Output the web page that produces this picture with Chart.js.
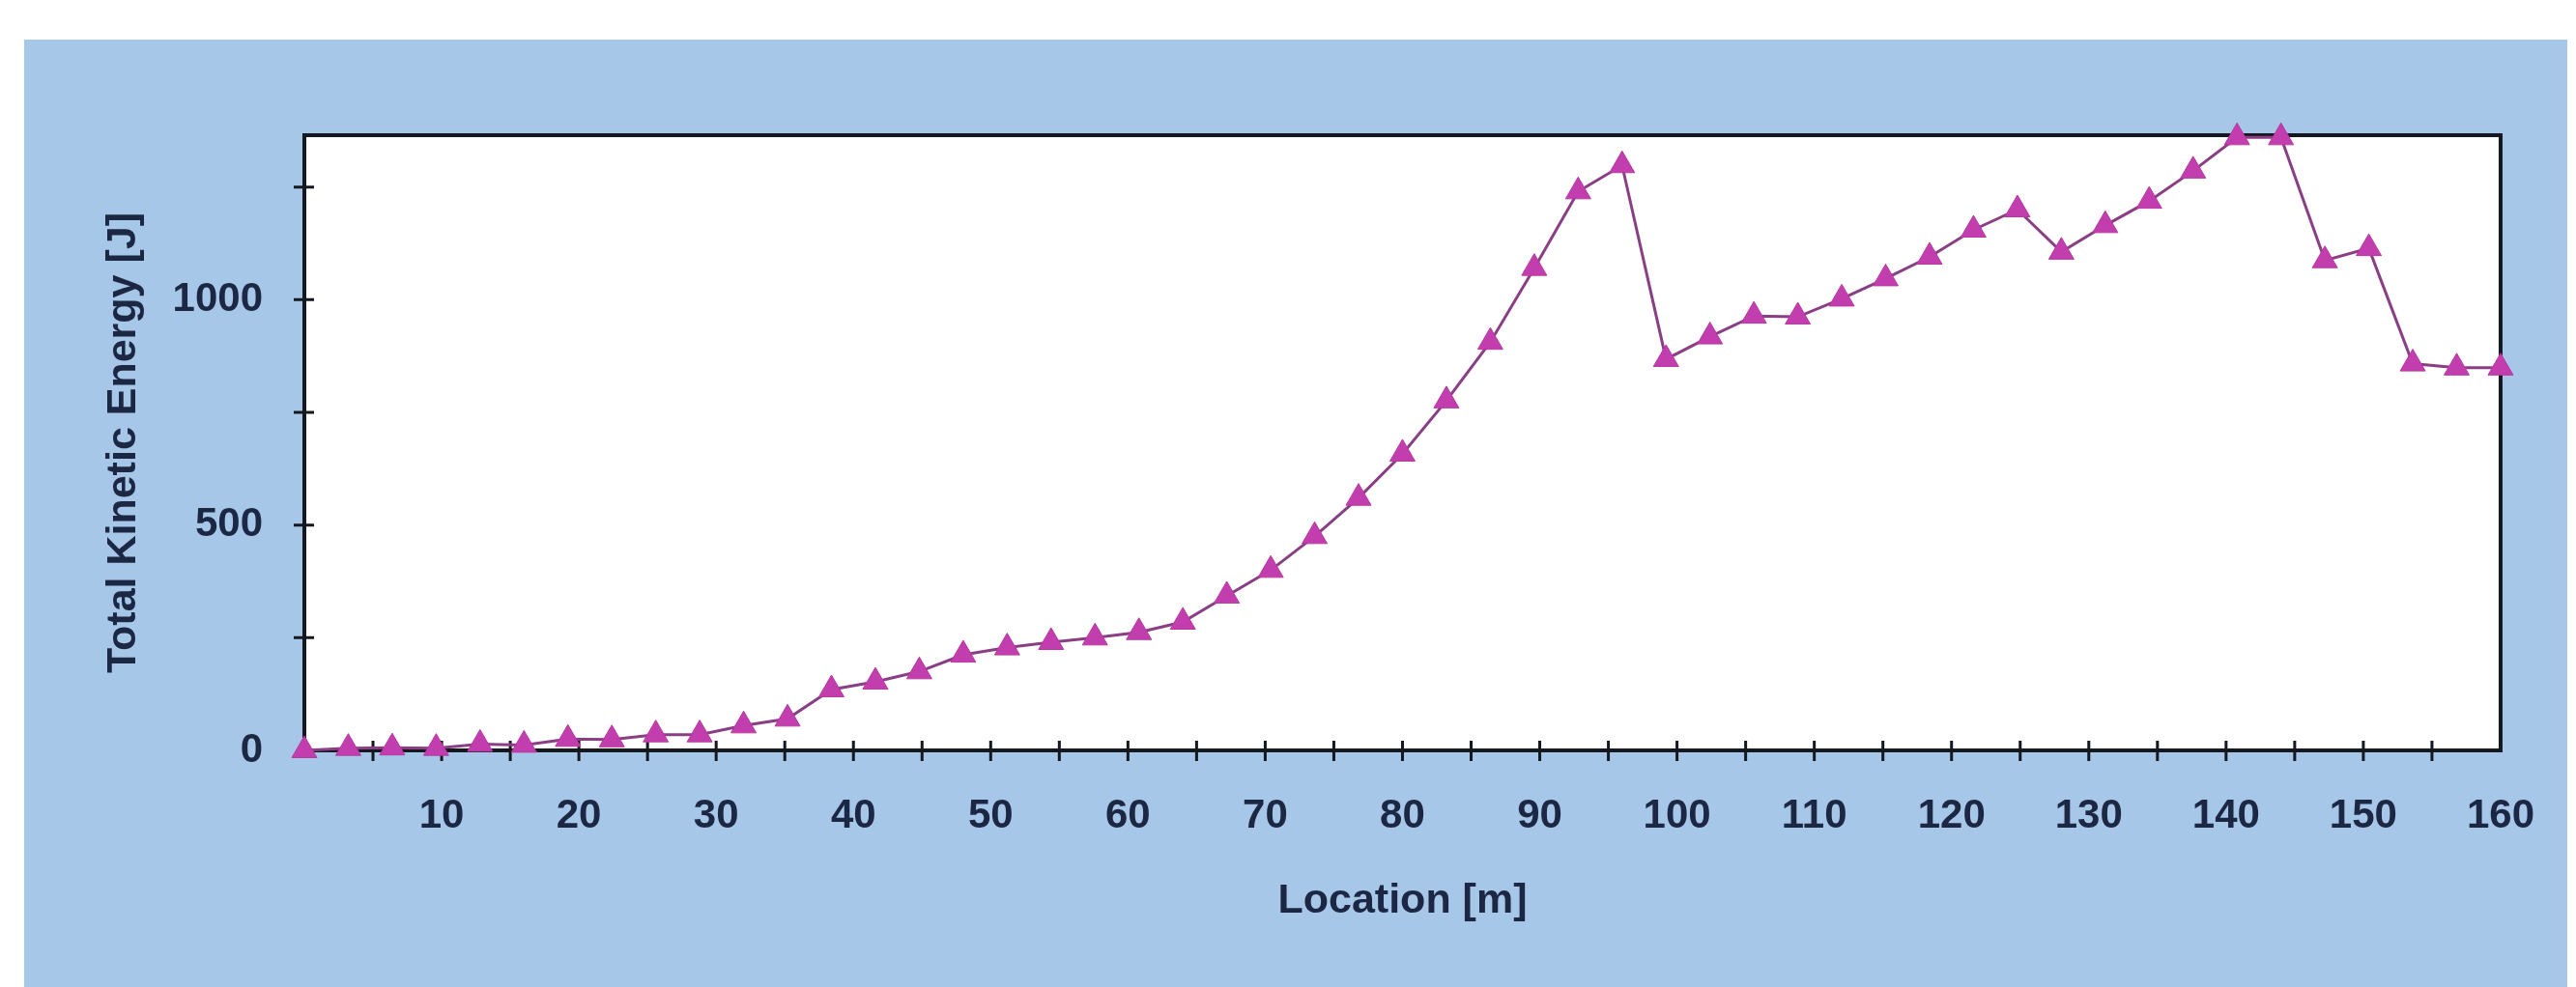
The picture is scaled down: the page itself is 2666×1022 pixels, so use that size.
<!DOCTYPE html>
<html>
<head>
<meta charset="utf-8">
<script src="https://cdn.jsdelivr.net/npm/chart.js@4.4.0/dist/chart.umd.min.js"></script>
<style>
  html, body { margin: 0; padding: 0; background: #ffffff; overflow: hidden; }
  canvas { display: block; }
</style>
</head>
<body>
<canvas id="chart" width="2666" height="1022" style="width:2666px;height:1022px"></canvas>
<script>
// ---- data ----
const locations = [0, 3.2, 6.4, 9.6, 12.8, 16, 19.2, 22.4, 25.6, 28.8,
  32, 35.2, 38.4, 41.6, 44.8, 48, 51.2, 54.4, 57.6, 60.8,
  64, 67.2, 70.4, 73.6, 76.8, 80, 83.2, 86.4, 89.6, 92.8,
  96, 99.2, 102.4, 105.6, 108.8, 112, 115.2, 118.4, 121.6, 124.8,
  128, 131.2, 134.4, 137.6, 140.8, 144, 147.2, 150.4, 153.6, 156.8, 160];
const kineticEnergy = [0, 5, 6, 5, 14, 12, 25, 24, 35, 35,
  55, 70, 135, 152, 175, 212, 228, 240, 250, 262,
  285, 343, 400, 475, 560, 658, 776, 906, 1070, 1240,
  1298, 868, 918, 964, 962, 1002, 1047, 1095, 1155, 1200,
  1106, 1165, 1219, 1286, 1360, 1360, 1087, 1114, 858, 849, 849];
const xTickLabels = [10, 20, 30, 40, 50, 60, 70, 80, 90, 100, 110, 120, 130, 140, 150, 160];
const xTickMarks = [5, 10, 15, 20, 25, 30, 35, 40, 45, 50, 55, 60, 65, 70, 75, 80,
  85, 90, 95, 100, 105, 110, 115, 120, 125, 130, 135, 140, 145, 150, 155];
const yTickLabels = [0, 500, 1000];
const yTickMarks = [250, 500, 750, 1000, 1250];
const xAxisTitle = 'Location [m]';
const yAxisTitle = 'Total Kinetic Energy [J]';

// ---- styles ----
const PANEL = '#a7c7e9';
const INK = '#1c2743';
const FONT = '"Liberation Sans", Arial, sans-serif';

const framePlugin = {
  id: 'frame',
  beforeDraw(chart) {
    const { ctx, chartArea: a } = chart;
    ctx.save();
    ctx.fillStyle = '#ffffff';
    ctx.fillRect(0, 0, chart.width, chart.height);
    ctx.fillStyle = PANEL;
    ctx.fillRect(25, 41, 2632, 981);
    ctx.fillStyle = '#ffffff';
    ctx.fillRect(a.left, a.top, a.right - a.left, a.bottom - a.top);
    ctx.restore();
  },
  beforeDatasetsDraw(chart) {
    const { ctx, chartArea: a, scales: { x, y } } = chart;
    ctx.save();
    ctx.strokeStyle = '#15181f';
    ctx.lineWidth = 4;
    ctx.strokeRect(a.left, a.top, a.right - a.left, a.bottom - a.top);
    ctx.lineWidth = 3;
    ctx.beginPath();
    xTickMarks.forEach(v => {
      const px = x.getPixelForValue(v);
      ctx.moveTo(px, a.bottom - 10);
      ctx.lineTo(px, a.bottom + 11);
    });
    yTickMarks.forEach(v => {
      const py = y.getPixelForValue(v);
      ctx.moveTo(a.left - 11, py);
      ctx.lineTo(a.left + 10, py);
    });
    ctx.stroke();
    ctx.restore();
  }
};

new Chart(document.getElementById('chart'), {
  type: 'line',
  data: {
    datasets: [{
      data: locations.map((loc, i) => ({ x: loc, y: kineticEnergy[i] })),
      borderColor: '#8a3f84',
      borderWidth: 3,
      pointStyle: 'triangle',
      pointRadius: 15,
      pointBackgroundColor: '#c23eae',
      pointBorderColor: '#b8389f',
      pointBorderWidth: 1,
      tension: 0,
      clip: false
    }]
  },
  options: {
    responsive: false,
    animation: false,
    devicePixelRatio: 1,
    layout: { padding: { top: 140, right: 66, left: 0, bottom: 0 } },
    plugins: { legend: { display: false }, tooltip: { enabled: false } },
    scales: {
      x: {
        type: 'linear',
        position: 'bottom',
        min: 0,
        max: 160,
        grid: { display: false, drawTicks: false },
        border: { display: false },
        afterBuildTicks: s => { s.ticks = xTickLabels.map(v => ({ value: v })); },
        afterFit: s => { s.height = 245; },
        ticks: {
          autoSkip: false,
          maxRotation: 0,
          padding: 43,
          color: INK,
          font: { family: FONT, size: 42, weight: 'bold' },
          callback: v => String(v)
        },
        title: {
          display: true,
          text: xAxisTitle,
          color: INK,
          font: { family: FONT, size: 43, weight: 'bold' },
          padding: { top: 0, bottom: 63 }
        }
      },
      y: {
        type: 'linear',
        position: 'left',
        min: 0,
        max: 1365,
        grid: { display: false, drawTicks: false },
        border: { display: false },
        afterBuildTicks: s => { s.ticks = yTickLabels.map(v => ({ value: v })); },
        afterFit: s => { s.width = 315; },
        ticks: {
          autoSkip: false,
          padding: 43,
          color: INK,
          font: { family: FONT, size: 42, weight: 'bold' },
          callback: v => String(v)
        },
        title: {
          display: true,
          text: yAxisTitle,
          color: INK,
          font: { family: FONT, size: 43, weight: 'bold' },
          padding: { top: 102, bottom: 0 }
        }
      }
    }
  },
  plugins: [framePlugin]
});
</script>
</body>
</html>
